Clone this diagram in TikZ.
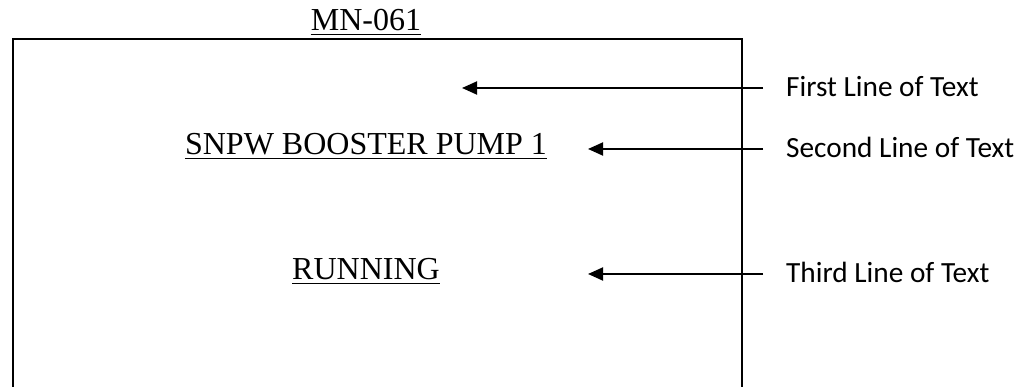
\documentclass[tikz,border=0pt]{standalone}
\usepackage{fontspec}
\setmainfont{Liberation Serif}
\newfontfamily\labfont{Carlito}
\usetikzlibrary{arrows.meta}
\tikzset{
  serif/.style={inner sep=0pt, anchor=base, font=\fontsize{32}{36}\selectfont},
  lab/.style={inner sep=0pt, anchor=base west, font=\labfont\fontsize{29.3}{34}\selectfont},
  uline/.style={line width=1.6pt},
  frame/.style={line width=1.7pt},
  arr/.style={line width=1.9pt, -{Triangle[length=15pt,width=13pt]}}
}
\begin{document}
\begin{tikzpicture}[x=1pt,y=1pt]
\useasboundingbox (0,0) rectangle (1023,-387);
% frame (open at bottom)
\draw[frame] (13,-390) -- (13,-39) -- (742,-39) -- (742,-390);
% title and screen texts
\node[serif] (title) at (366,-31) {MN-061};
\node[serif] (t2) at (366,-155) {SNPW BOOSTER PUMP 1};
\node[serif] (t3) at (366,-280) {RUNNING};
\foreach \n in {title,t2,t3}
  \draw[uline] ([yshift=-3.5pt]\n.base west) -- ([yshift=-3.5pt]\n.base east);
% labels
\node[lab] (l1) at (786,-97) {First Line of Text};
\node[lab] (l2) at (786,-158) {Second Line of Text};
\node[lab] (l3) at (786,-283) {Third Line of Text};
% arrow ends
\coordinate (s1) at (763,-88);
\coordinate (e1) at (462,-88);
\coordinate (s2) at (763,-149);
\coordinate (e2) at (588,-149);
\coordinate (s3) at (763,-274);
\coordinate (e3) at (588,-274);
\draw[arr] (s1) -- (e1);
\draw[arr] (s2) -- (e2);
\draw[arr] (s3) -- (e3);
\end{tikzpicture}
\end{document}
